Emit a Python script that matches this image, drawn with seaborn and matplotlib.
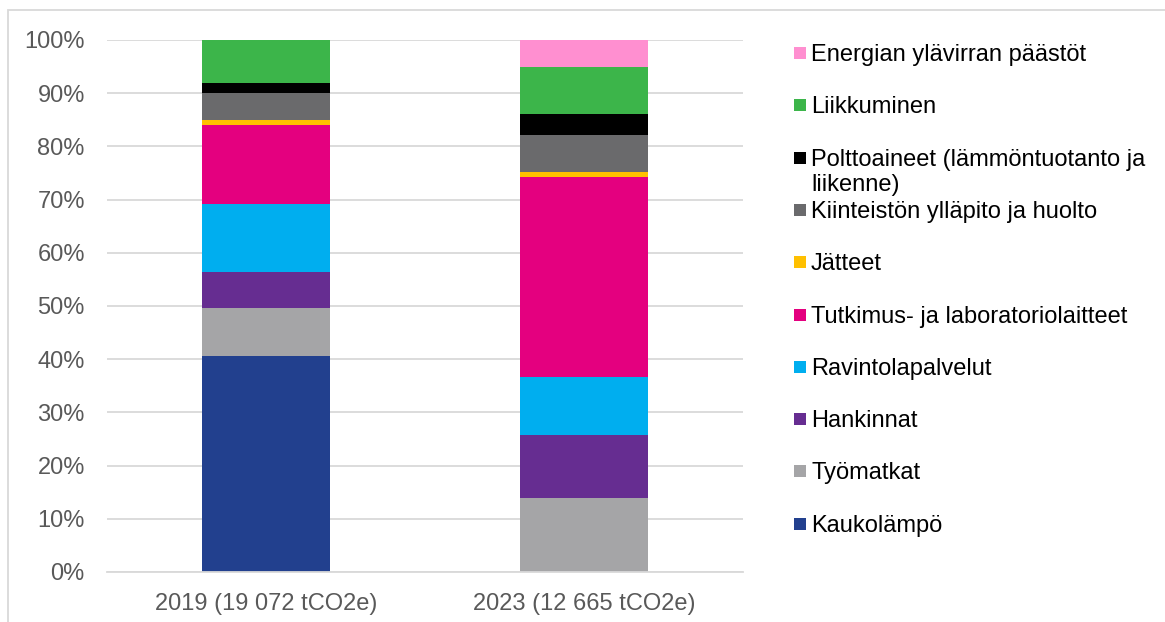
import matplotlib
matplotlib.use("Agg")
import matplotlib.pyplot as plt
import seaborn as sns
import numpy as np
from matplotlib.patches import Rectangle
from matplotlib.ticker import PercentFormatter

# Data (share of emissions, %), stacked bottom -> top
years = ['2019 (19 072 tCO2e)', '2023 (12 665 tCO2e)']
categories = [
    'Kaukolämpö',
    'Työmatkat',
    'Hankinnat',
    'Ravintolapalvelut',
    'Tutkimus- ja laboratoriolaitteet',
    'Jätteet',
    'Kiinteistön ylläpito ja huolto',
    'Polttoaineet (lämmöntuotanto ja\nliikenne)',
    'Liikkuminen',
    'Energian ylävirran päästöt',
]
share_2019 = [40.6, 8.96, 6.87, 12.82, 14.75, 1.05, 4.95, 1.9, 8.1, 0.0]
share_2023 = [0.0, 13.88, 11.87, 10.94, 37.5, 0.94, 7.06, 3.81, 8.94, 5.06]
colors = ['#22408E', '#A5A5A7', '#662D91', '#00AEEF', '#E4007F',
          '#FFC000', '#6A6A6C', '#000000', '#3CB54A', '#FF8FD0']

sns.set_style('white')
plt.rcParams['font.family'] = ['Liberation Sans', 'DejaVu Sans']

W, H = 1165, 622
fig = plt.figure(figsize=(W / 100, H / 100), dpi=100)
ax = fig.add_axes([107 / W, 1 - 572 / H, (743 - 107) / W, (572 - 40) / H])

bottom = np.zeros(len(years))
for name, c, v19, v23 in zip(categories, colors, share_2019, share_2023):
    vals = np.array([v19, v23])
    sns.barplot(x=years, y=vals, bottom=bottom, color=c, width=0.4,
                saturation=1, edgecolor='none', ax=ax)
    bottom += vals

ax.set_xlim(-0.5, 1.5)
ax.set_ylim(0, 100)
ax.set_yticks(np.arange(0, 101, 10))
ax.yaxis.set_major_formatter(PercentFormatter(decimals=0))
ax.grid(axis='y', color='#D9D9D9', linewidth=1.3)
ax.set_axisbelow(True)
for s in ['left', 'right', 'top']:
    ax.spines[s].set_visible(False)
ax.spines['bottom'].set_color('#D9D9D9')
ax.spines['bottom'].set_linewidth(1.3)
ax.tick_params(axis='y', length=0, pad=16, labelsize=17, labelcolor='#595959')
ax.tick_params(axis='x', which='major', length=0, pad=15, labelsize=17, labelcolor='#595959')
ax.set_xticks([-0.5, 0.5, 1.5], minor=True)
ax.tick_params(axis='x', which='minor', length=6, width=1.3, color='#D9D9D9')
ax.set_xlabel('')
ax.set_ylabel('')

# legend drawn by hand, top item = last category
y0, step = 53, 52.3
for i, (name, c) in enumerate(zip(categories[::-1], colors[::-1])):
    yc = y0 + i * step
    fig.add_artist(Rectangle((794 / W, 1 - (yc + 6) / H), 12 / W, 12 / H,
                             transform=fig.transFigure, facecolor=c, edgecolor='none'))
    for j, line in enumerate(name.split('\n')):
        fig.text(811 / W, 1 - (yc + 8 + j * 25) / H, line, fontsize=17,
                 color='#000000', va='baseline', ha='left')

# chart area border
fig.add_artist(Rectangle((8 / W, -0.05), 1.1, 1 - 10 / H + 0.05, transform=fig.transFigure,
                         facecolor='none', edgecolor='#D9D9D9', linewidth=1.3))

fig.savefig('out.png', dpi=100)
